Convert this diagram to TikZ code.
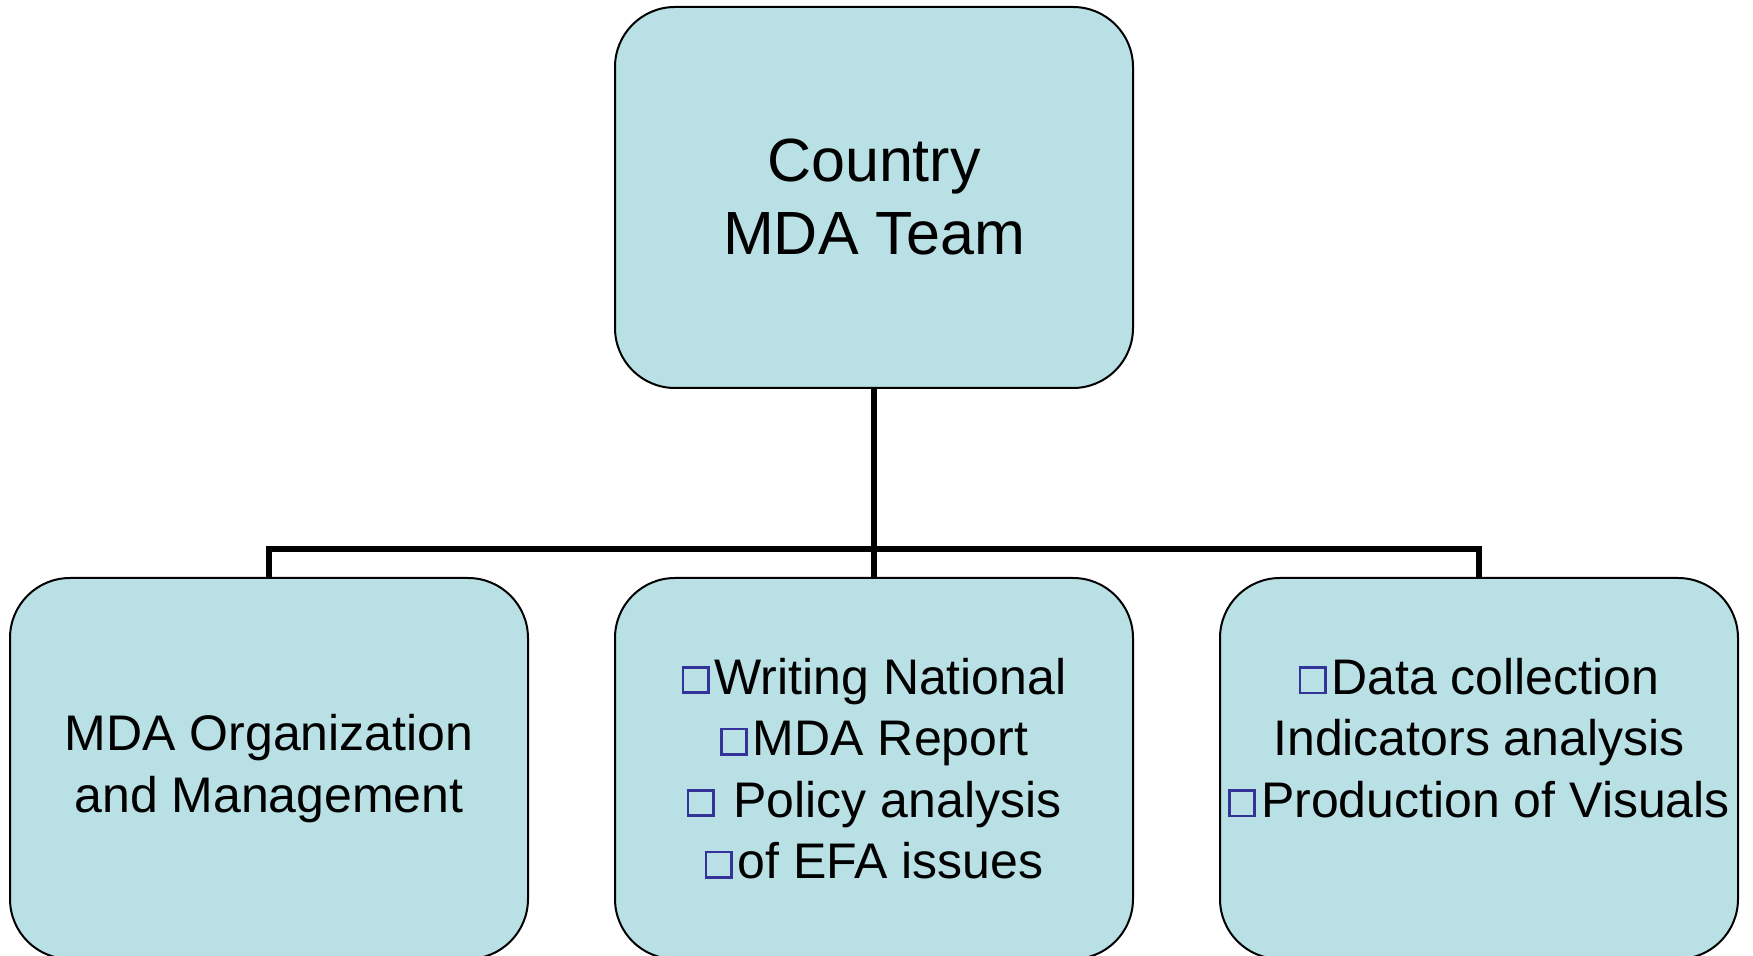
\documentclass[tikz,border=0pt]{standalone}
\usepackage{fontspec}
\setmainfont{Liberation Sans}
\usepackage{tikz}
\usetikzlibrary{positioning}
\definecolor{boxfill}{RGB}{185,224,228}
\definecolor{bulletblue}{RGB}{51,51,153}
% hollow square bullet
\newcommand{\sqbul}{{\color{bulletblue}\setlength{\fboxsep}{0pt}\setlength{\fboxrule}{1.35pt}%
  \raisebox{1.35pt}{\fbox{\rule{0pt}{11.3pt}\hspace{11.3pt}}}\hspace{2.5pt}}}
\tikzset{
teambox/.style={draw=black, line width=1pt, fill=boxfill, rounded corners=30pt,
  minimum width=259pt, minimum height=190.5pt, inner sep=0pt, align=center}, % every box of the chart
toptext/.style={font=\fontsize{30.5}{36.5}\selectfont},
subtext/.style={font=\fontsize{25}{30.75}\selectfont},
link/.style={line width=3pt}, % the connecting lines
}

\begin{document}
\begin{tikzpicture}[node distance=285.5pt and 302.5pt,on grid]
   \useasboundingbox (0,0) rectangle (876.5pt,-478pt);
   \node[teambox,toptext] (team) at (437pt,-98.75pt) {Country~\\MDA Team};
   \node[teambox,subtext] (report) [below=of team]
     {\sqbul Writing National~\\\sqbul MDA Report\\\sqbul{} Policy analysis~\\\sqbul of EFA issues};
   \node[teambox,subtext] (org) [left=of report] {MDA Organization~\\and Management};
   \node[teambox,subtext] (data) [right=of report]
     {\sqbul Data collection\\Indicators analysis\\\sqbul Production of Visuals\\\mbox{}};
   \draw[link] (team.south) -- (report.north);
   \draw[link] (org.north) -- ++(0,14pt) -| (data.north);
\end{tikzpicture}
\end{document}
